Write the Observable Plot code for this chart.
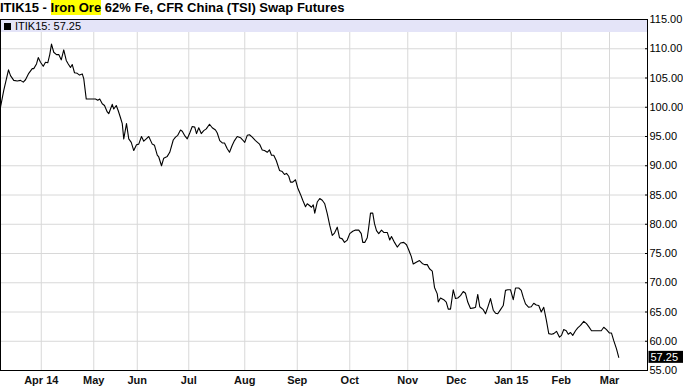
<!DOCTYPE html>
<html><head><meta charset="utf-8">
<script src="https://cdn.jsdelivr.net/npm/d3@7"></script>
<script src="https://cdn.jsdelivr.net/npm/@observablehq/plot@0.6"></script>
<style>
body{margin:0;background:#fff;font-family:"Liberation Sans",Arial,sans-serif;}
#wrap{position:relative;width:683px;height:388px;overflow:hidden;}
#title{position:absolute;left:0;top:0;font-weight:bold;font-size:13px;line-height:15px;color:#000;white-space:nowrap;}
#title .hl{background:#ffff00;}
#legend{position:absolute;left:1px;top:20px;width:646px;height:12px;background:#e4e4f8;font-size:11px;line-height:12px;color:#000;white-space:nowrap;}
#legend .sq{display:inline-block;width:7px;height:7px;background:#000;margin:0 4px 0 3px;}
</style></head><body>
<div id="wrap"><div id="chart"></div>
<div id="title">ITIK15 - <span class="hl">Iron Ore</span> 62% Fe, CFR China (TSI) Swap Futures</div>
<div id="legend"><span class="sq"></span><span id="legtext"></span></div></div>
<script>
const symbol = "ITIK15";
// trading-session position (x) and settlement price (y)
const session = [0,1.3,3.2,4,5.3,6.7,8,9.1,10,11.3,12.7,13.3,14.4,15.1,16,17.1,18,18.9,19.7,20.4,21.3,22.4,23.3,24.3,25.3,26.3,27.1,28,28.7,29.6,30.7,31.6,32.7,33.3,34.3,36,38,38.9,39.7,40.7,41.6,42.7,43.3,44,44.7,45.3,46.3,47.1,48,48.7,49.3,50.4,51.3,52.3,53.3,54.4,55.3,56.4,57.3,58.3,59.3,60.7,61.6,62.7,63.3,64.4,65.3,66.7,67.7,69.1,70,70.9,72,72.7,73.6,74.7,75.7,76.7,77.7,78.4,79.3,80.3,81.3,82.3,83.6,84.7,86,86.7,87.7,88.7,89.6,90.7,91.6,92.7,93.6,94.7,96,96.9,97.7,98.7,99.6,100.7,102,103.6,104.7,105.6,106.7,107.6,108.4,109.3,110.3,111.6,112.7,113.6,114.4,115.3,116,116.9,118,118.9,120,120.9,122,122.7,123.6,124.4,125.1,125.7,126.7,127.7,128.7,129.7,130.7,131.7,132.7,133.6,134.7,135.6,136.7,137.6,138.7,139.7,140.9,142,143.3,144.3,144.9,145.7,146.7,147.3,148,148.9,149.6,150.4,151.3,152.4,153.3,154.7,155.7,156.4,157.6,158.7,160,161.3,162.4,163.3,164.3,165.1,166.3,167.6,168.7,169.6,170.7,171.6,172.7,173.6,174.7,175.1,176,177.3,178.3,179.1,180,181.1,182,182.9,184,185.1,186,186.9,188,189.3,190,190.9,191.7,193.1,194,194.9,196,197.1,198,198.9,200,201.1,202,202.9,204,205.1,206,207.3,208.3,209.1,210,211.3,212.3,213.3,214.3,215.3,216.3,217.3,218.3,219.3,220.4,221.3,222.4,223.6,224.4,225.3,226.3,227.1,228,228.9,230,230.9,232,233.3,234.4,235.3,236.4,237.6,239.3,240.3,241.3,242.4,243.6,244.4,245.3,246.4,247.3];
const price = [100.0,102.9,106.4,105.4,104.6,104.5,104.6,104.3,104.7,105.8,106.6,106.6,107.4,108.5,107.7,107.0,107.7,107.6,109.0,110.8,109.4,109.0,109.0,108.1,109.8,108.0,107.4,106.8,107.3,105.9,105.8,105.5,105.7,104.9,101.4,101.4,101.4,101.2,101.4,100.6,100.3,99.2,98.9,99.7,100.5,99.7,100.3,99.4,98.2,97.2,94.6,97.2,94.6,94.0,92.6,93.6,93.7,95.0,94.2,94.6,95.0,93.7,93.5,91.8,91.5,90.0,91.3,91.6,92.3,94.4,94.9,95.2,96.1,95.9,95.2,94.6,95.6,96.7,96.6,95.5,96.5,95.5,96.0,96.3,97.1,96.5,96.1,95.6,94.3,93.9,93.9,92.9,92.3,93.5,94.3,95.0,94.8,94.4,94.0,95.2,95.3,94.9,94.3,93.7,92.7,92.6,92.3,92.7,91.8,91.8,90.9,89.2,89.0,88.5,88.7,88.2,87.2,87.2,87.6,86.2,85.1,84.1,83.0,83.5,83.2,82.9,83.3,81.9,83.8,84.4,84.1,83.5,81.8,79.8,78.1,78.5,79.5,77.7,77.5,76.9,77.3,78.4,78.8,79.0,79.0,78.4,76.9,76.9,77.7,79.5,81.9,81.9,80.1,78.9,78.4,79.0,78.6,78.6,77.3,77.9,76.9,76.1,76.8,76.9,76.5,75.6,74.5,73.2,73.5,73.8,73.3,73.1,73.1,72.4,72.0,69.2,68.1,66.7,67.4,67.1,66.7,65.5,65.5,68.8,67.3,67.4,67.8,68.5,68.2,66.7,65.6,65.7,65.8,68.0,65.9,65.4,64.7,65.8,67.3,65.3,64.8,64.7,65.4,66.1,68.7,68.8,68.8,67.1,69.1,69.1,68.7,67.5,66.4,65.8,65.9,66.5,66.2,66.1,65.0,65.8,63.7,61.3,61.2,61.3,61.7,60.7,61.0,62.0,61.8,61.2,61.5,61.0,61.8,62.3,62.7,63.4,63.0,62.5,61.8,61.8,61.8,61.8,62.4,62.0,61.4,61.4,60.1,58.7,57.25];
const monthTicks = [16.3,37.3,54.7,75.3,97.7,118.7,139.7,162.9,182.3,204.3,224.3,243.6];
const monthLabels = ["Apr 14","May","Jun","Jul","Aug","Sep","Oct","Nov","Dec","Jan 15","Feb","Mar"];
const priceTicks = [55,60,65,70,75,80,85,90,95,100,105,110,115];
const sessionDomain = [0, 258.8];
const priceDomain = [55, 115];

const data = session.map((s, i) => ({s, p: price[i]}));
const last = price[price.length - 1];
document.getElementById("legtext").textContent = `${symbol}: ${last.toFixed(2)}`;

const chart = Plot.plot({
  width: 683, height: 388,
  marginTop: 19, marginBottom: 18, marginLeft: 0, marginRight: 36,
  style: {fontFamily: '"Liberation Sans", Arial, sans-serif', background: "#fff", color: "#000"},
  x: {domain: sessionDomain},
  y: {domain: priceDomain},
  marks: [
    Plot.gridX(monthTicks, {stroke: "#d8d8d8", strokeOpacity: 1}),
    Plot.gridY(priceTicks, {stroke: "#d8d8d8", strokeOpacity: 1}),
    Plot.frame({stroke: "#000"}),
    Plot.axisY(priceTicks, {anchor: "right", tickSize: -3, tickPadding: 5, tickFormat: d3.format(".2f"), fontSize: 11, label: null, fill: "#000"}),
    Plot.axisX(monthTicks, {anchor: "bottom", tickSize: 0, tickPadding: 6, tickFormat: d => monthLabels[monthTicks.indexOf(d)], fontSize: 11, fontWeight: "bold", label: null, fill: "#111"}),
    Plot.line(data, {x: "s", y: "p", stroke: "#000", strokeWidth: 1.1}),
    Plot.text([last], {y: d => d, frameAnchor: "right", textAnchor: "start", dx: 3, text: d => d.toFixed(2), fill: "#fff", fontSize: 11, className: "lastval"})
  ]
});
document.getElementById("chart").appendChild(chart);
// black box behind last-value label
d3.select(chart).selectAll("g.lastval text").each(function() {
  const b = this.getBBox();
  d3.select(this.parentNode).insert("rect", () => this)
    .attr("transform", this.getAttribute("transform"))
    .attr("x", b.x - 2).attr("y", b.y).attr("width", 683).attr("height", b.height)
    .attr("fill", "#000");
});
</script>
</body></html>
